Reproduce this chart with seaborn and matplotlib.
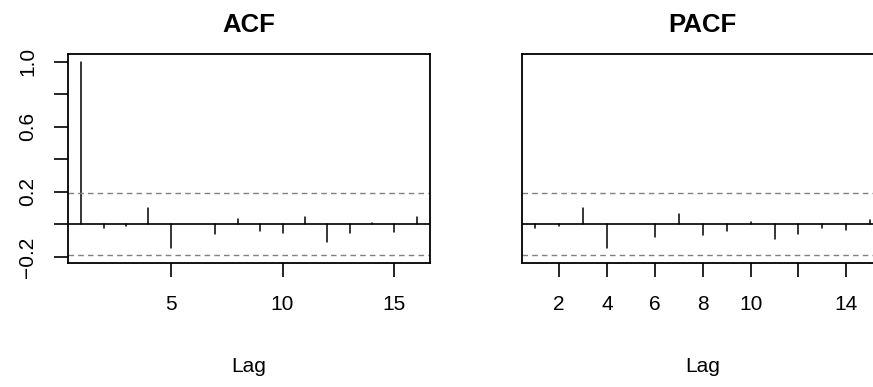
import numpy as np
import pandas as pd
import matplotlib
matplotlib.use("Agg")
import matplotlib.pyplot as plt
import seaborn as sns

# autocorrelations
acf_lags = list(range(1, 17))
acf_vals = [1.0, -0.02, -0.01, 0.10, -0.148, 0.004, -0.062, 0.031,
            -0.041, -0.056, 0.045, -0.107, -0.051, 0.006, -0.049, 0.045]
pacf_lags = list(range(1, 16))
pacf_vals = [-0.02, -0.01, 0.10, -0.148, 0.004, -0.078, 0.062, -0.066,
             -0.041, 0.016, -0.09, -0.062, -0.02, -0.033, 0.025]
conf_band = 0.19

acf_xticks = [5, 10, 15]
pacf_xticks = [2, 4, 6, 8, 10, 12, 14]
pacf_xticklabels = ["2", "4", "6", "8", "10", "", "14"]
yticks = [-0.2, 0.0, 0.2, 0.4, 0.6, 0.8, 1.0]
yticklabels = ["\u22120.2", "", "0.2", "", "0.6", "", "1.0"]

sns.set_theme(style="white")
plt.rcParams["font.family"] = ["Liberation Sans", "DejaVu Sans"]
plt.rcParams.update({"text.color": "black", "axes.labelcolor": "black",
                     "xtick.color": "black", "ytick.color": "black"})


def stem_frame(lags, vals):
    rows = []
    for lag, v in zip(lags, vals):
        rows.append({"lag": lag, "value": 0.0, "unit": lag})
        rows.append({"lag": lag, "value": v, "unit": lag})
    return pd.DataFrame(rows)


def draw_panel(ax, lags, vals, title):
    df = stem_frame(lags, vals)
    sns.lineplot(data=df, x="lag", y="value", units="unit", estimator=None,
                 color="black", linewidth=1.1, ax=ax, legend=False)
    ax.axhline(0, color="black", linewidth=1.2)
    for c in (conf_band, -conf_band):
        ax.axhline(c, color="#808080", linewidth=1.0, dashes=(4, 3))
    pad = 0.04 * (max(lags) - min(lags))
    ax.set_xlim(min(lags) - pad, max(lags) + pad)
    ax.set_ylim(-conf_band - 0.04 * (1.0 + conf_band), 1.0 + 0.04 * (1.0 + conf_band))
    ax.set_title(title, fontsize=18.5, fontweight="bold", pad=16, color="black")
    ax.set_xlabel("Lag", fontsize=15, color="black")
    ax.set_ylabel("")
    ax.xaxis.set_label_coords(0.5, -0.45)
    for s in ax.spines.values():
        s.set_color("black")
        s.set_linewidth(1.3)
    ax.tick_params(axis="x", direction="out", length=10, width=1.2,
                   color="black", labelcolor="black", labelsize=15, pad=13,
                   bottom=True)


fig = plt.figure(figsize=(8.73, 3.87), dpi=100)
ax1 = fig.add_axes([68 / 873, 1 - 263 / 387, 362 / 873, 209 / 387])
ax2 = fig.add_axes([521.7 / 873, 1 - 263 / 387, 362 / 873, 209 / 387])

draw_panel(ax1, acf_lags, acf_vals, "ACF")
ax1.set_xticks(acf_xticks)
ax1.set_yticks(yticks)
ax1.set_yticklabels(yticklabels, rotation=90, va="center")
ax1.tick_params(axis="y", direction="out", length=10, width=1.2,
                color="black", labelcolor="black", labelsize=15, pad=12,
                left=True)

draw_panel(ax2, pacf_lags, pacf_vals, "PACF")
ax2.set_xticks(pacf_xticks)
ax2.set_xticklabels(pacf_xticklabels)
ax2.set_yticks([])

fig.savefig("out.png", dpi=100, facecolor="white")
